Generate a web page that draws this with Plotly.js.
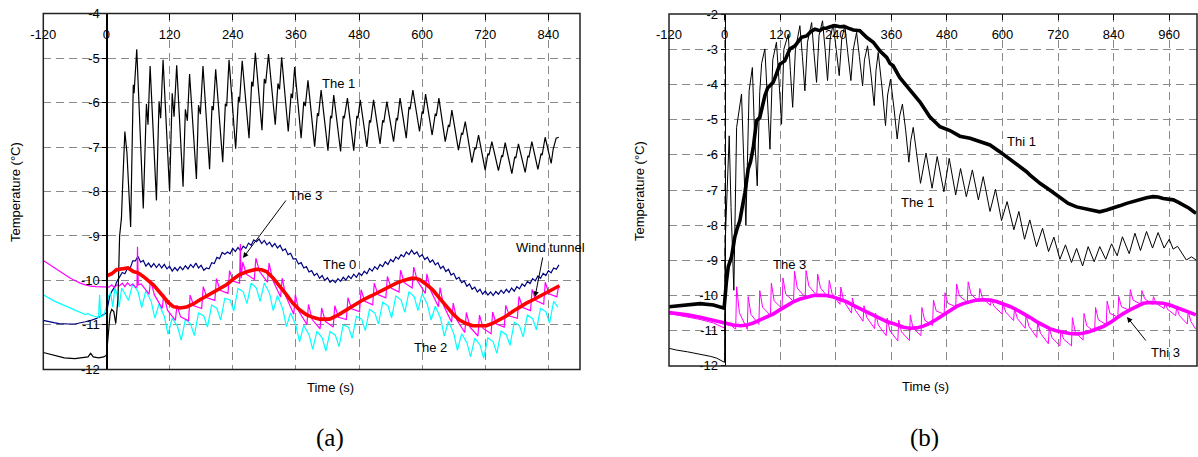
<!DOCTYPE html>
<html>
<head>
<meta charset="utf-8">
<script src="https://cdn.plot.ly/plotly-3.0.1.min.js"></script>
<style>html,body{margin:0;padding:0;background:#fff;}#chart{width:1198px;height:457px;}</style>
</head>
<body>
<div id="chart"></div>
<script>
// ---------- Panel (a) data ----------
const aThe1T = [-120,-100,-80,-60,-45,-35,-30,-25,-15,-5,0,3,7,10,14,17.7,20,22,25,28.5,31,35,39,43,46,51,52.5,57.6,70,76,79,83,95,100,103,107.6,120,125,128.5,133.5,145.6,150,153.8,158,171,175,178.5,183.5,196,200.6,203,207.6,221,226,228.5,233,245.6,251,253,258,271,276,278.5,283,295.6,300,302.5,308,320.8,326,329,333,345.5,351,353.5,357.7,370,375,378,383,395.7,401,403,408,421,426,428,432,445,450,452,458,470,476,478,482.4,495,500,502,507.7,520,525,527,533,545.7,551,553,558,569.8,575,577,582.4,595,600,602,606.5,619,625,627,631.8,643.9,650,652,656.5,669,675,677,682,694.5,700,702,707.2,719.8,725,727,732.5,745,751,753,757.8,770.5,776,778,783,795.8,801,803,808.5,820,826,828,833.8,845.2,849,854.7,859.7];
const aThe1Y = [-11.62,-11.68,-11.74,-11.76,-11.73,-11.72,-11.64,-11.72,-11.74,-11.72,-11.68,-11.2,-10.75,-10.65,-10.7,-10.97,-10.6,-10.4,-9.0,-8.6,-7.8,-6.65,-7.14,-8.0,-8.8,-5.6,-5.79,-4.8,-8.38,-6.03,-6.5,-5.18,-8.2,-5.97,-6.35,-5.04,-8.0,-5.79,-6.32,-5.16,-7.89,-6.15,-6.41,-5.36,-7.72,-6.06,-6.26,-5.18,-7.5,-6.08,-6.17,-5.25,-7.34,-6.03,-6.08,-5.04,-7.04,-5.87,-5.98,-5.06,-6.8,-5.53,-5.64,-4.88,-6.62,-5.47,-5.57,-4.91,-6.5,-5.57,-5.7,-4.98,-6.65,-5.8,-5.9,-5.2,-6.8,-5.98,-6.08,-5.5,-6.99,-6.24,-6.3,-5.72,-7.08,-6.3,-6.35,-5.83,-7.1,-6.3,-6.35,-5.9,-7.08,-6.3,-6.35,-5.94,-7.0,-6.4,-6.45,-5.94,-6.93,-6.4,-6.45,-5.98,-6.88,-6.35,-6.4,-5.9,-6.8,-6.1,-6.15,-5.72,-6.65,-6.2,-6.25,-5.81,-6.73,-6.25,-6.3,-5.9,-6.88,-6.5,-6.55,-6.17,-7.07,-6.68,-6.72,-6.43,-7.35,-7.02,-7.05,-6.73,-7.52,-7.15,-7.18,-6.88,-7.53,-7.2,-7.22,-6.9,-7.6,-7.22,-7.25,-6.93,-7.57,-7.2,-7.22,-6.88,-7.5,-7.15,-7.18,-6.78,-7.37,-7.05,-6.8,-6.78];

const aThe0T = [-120,-110,-100,-90,-80,-70,-60,-50,-40,-30,-20,-10,0,3,6,10,13,16,20,25,30,35,40,45,50,55,60,65,70,75,80,85,90,95,100,105,110,115,120,125,130,135,140,145,150,155,160,165,170,175,180,185,190,195,200,205,210,215,220,225,230,235,240,245,250,255,260,265,270,275,280,285,290,295,300,305,310,315,320,325,330,335,340,345,350,355,360,365,370,375,380,385,390,395,400,405,410,415,420,425,430,435,440,445,450,455,460,465,470,475,480,485,490,495,500,505,510,515,520,525,530,535,540,545,550,555,560,565,570,575,580,585,590,595,600,605,610,615,620,625,630,635,640,645,650,655,660,665,670,675,680,685,690,695,700,705,710,715,720,725,730,735,740,745,750,755,760,765,770,775,780,785,790,795,800,805,810,815,820,825,830,835,840,845,850,855,860];
const aThe0Y = [-10.9,-10.93,-10.95,-10.97,-10.98,-10.98,-10.98,-10.96,-10.93,-10.9,-10.86,-10.8,-10.73,-10.55,-10.36,-10.25,-10.2,-10.14,-10.02,-9.91,-9.82,-9.85,-9.73,-9.73,-9.56,-9.56,-9.46,-9.59,-9.55,-9.68,-9.61,-9.7,-9.62,-9.71,-9.63,-9.72,-9.64,-9.74,-9.68,-9.79,-9.71,-9.78,-9.69,-9.76,-9.67,-9.74,-9.64,-9.71,-9.61,-9.72,-9.66,-9.77,-9.72,-9.74,-9.6,-9.62,-9.48,-9.51,-9.37,-9.41,-9.36,-9.4,-9.28,-9.35,-9.26,-9.33,-9.23,-9.28,-9.16,-9.21,-9.09,-9.13,-9.07,-9.17,-9.1,-9.2,-9.14,-9.24,-9.17,-9.27,-9.21,-9.33,-9.29,-9.42,-9.39,-9.52,-9.51,-9.63,-9.6,-9.72,-9.69,-9.81,-9.78,-9.89,-9.84,-9.95,-9.89,-10.0,-9.94,-10.04,-9.99,-10.05,-9.96,-10.02,-9.93,-9.99,-9.9,-9.96,-9.86,-9.93,-9.83,-9.89,-9.79,-9.85,-9.73,-9.79,-9.69,-9.75,-9.64,-9.69,-9.58,-9.64,-9.53,-9.58,-9.47,-9.52,-9.42,-9.47,-9.36,-9.42,-9.32,-9.41,-9.36,-9.47,-9.42,-9.53,-9.48,-9.59,-9.54,-9.65,-9.6,-9.73,-9.68,-9.8,-9.75,-9.88,-9.84,-9.97,-9.93,-10.05,-10.01,-10.13,-10.08,-10.2,-10.15,-10.26,-10.2,-10.31,-10.24,-10.33,-10.26,-10.34,-10.25,-10.31,-10.22,-10.29,-10.2,-10.27,-10.17,-10.24,-10.14,-10.19,-10.08,-10.13,-10.02,-10.07,-9.96,-10.01,-9.9,-9.95,-9.84,-9.89,-9.78,-9.83,-9.72,-9.75,-9.65];

const aWindT = [0,10,19,30,41,51,60,70,80,89,98,108,118,127,140,152,165,177,190,203,215,228,240,253,268,285,295,304,317,329,342,354,367,380,392,405,424,440,456,472,487,503,519,535,551,565,579,587,595,607,620,633,646,659,671,684,696,709,722,735,747,760,772,785,798,810,823,842,861];
const aWindY = [-9.9,-9.85,-9.76,-9.74,-9.72,-9.8,-9.83,-9.91,-10.0,-10.1,-10.22,-10.36,-10.5,-10.59,-10.62,-10.6,-10.53,-10.44,-10.35,-10.25,-10.18,-10.1,-9.98,-9.87,-9.8,-9.75,-9.76,-9.8,-9.95,-10.12,-10.32,-10.51,-10.66,-10.77,-10.83,-10.87,-10.87,-10.78,-10.66,-10.55,-10.44,-10.35,-10.25,-10.15,-10.06,-10.0,-9.95,-9.95,-9.98,-10.08,-10.21,-10.4,-10.59,-10.76,-10.89,-10.97,-11.02,-11.03,-11.02,-10.96,-10.89,-10.8,-10.7,-10.6,-10.51,-10.44,-10.36,-10.24,-10.12];

const aThe3T = [-120,-110,-100,-90,-80,-70,-60,-50,-40,-30,-20,-10,0,5,10,15,20,25,30,35,40,45,50,55,58,59,60.5,66,81,84,91,106,109,116,131,134,141,156,159,166,181,184,191,206,209,216,231,234,241,253,254.5,256,259,266,281,284,291,306,309,316,331,334,341,356,359,366,381,384,391,406,409,416,431,434,441,456,459,466,481,484,491,506,509,516,531,534,541,556,559,566,581,584,591,606,609,616,631,634,641,656,659,666,681,684,691,706,709,716,731,734,741,756,759,766,781,784,791,806,809,816,831,834,841,856,859];
const aThe3Y = [-9.55,-9.63,-9.7,-9.8,-9.87,-9.94,-10.0,-10.06,-10.1,-10.13,-10.14,-10.15,-10.15,-10.15,-10.1,-10.16,-10.1,-10.12,-10.06,-10.14,-10.05,-10.12,-10.08,-10.15,-10.15,-9.24,-10.1,-10.08,-10.31,-9.99,-10.32,-10.63,-10.32,-10.67,-10.9,-10.56,-10.82,-10.91,-10.33,-10.57,-10.63,-10.14,-10.39,-10.45,-9.96,-10.22,-10.29,-9.78,-10.02,-10.06,-9.18,-9.95,-9.59,-9.86,-9.98,-9.5,-9.8,-10.04,-9.61,-9.99,-10.37,-9.95,-10.36,-10.76,-10.32,-10.7,-10.99,-10.54,-10.88,-11.09,-10.62,-10.92,-11.05,-10.57,-10.83,-10.88,-10.39,-10.64,-10.7,-10.21,-10.47,-10.55,-10.06,-10.32,-10.39,-9.91,-10.17,-10.26,-9.77,-10.05,-10.17,-9.7,-10.01,-10.29,-9.85,-10.22,-10.59,-10.16,-10.57,-10.94,-10.51,-10.89,-11.17,-10.72,-11.05,-11.25,-10.78,-11.08,-11.2,-10.71,-10.98,-11.05,-10.56,-10.8,-10.85,-10.36,-10.61,-10.68,-10.2,-10.45,-10.53,-10.04,-10.3,-10.37,-10.15];

const aThe2T = [-120,-110,-100,-90,-80,-70,-60,-50,-40,-35,-32,-25,-15,-13,-11,-5,0,4,8,12,16,20,24,29,35,42,50,60,67,75,85,92,100,110,117,125,135,142,150,160,167,175,185,192,200,210,217,225,235,242,250,260,267,275,285,292,300,310,317,325,335,342,350,360,367,375,385,392,400,410,417,425,435,442,450,460,467,475,485,492,500,510,517,525,535,542,550,560,567,575,585,592,600,610,617,625,635,642,650,660,667,675,685,692,700,710,717,725,735,742,750,760,767,775,785,792,800,810,817,825,835,842,850,858];
const aThe2Y = [-10.32,-10.4,-10.46,-10.51,-10.56,-10.62,-10.67,-10.72,-10.77,-10.74,-10.77,-10.8,-10.83,-10.32,-10.82,-10.78,-10.59,-10.35,-10.28,-10.6,-10.17,-10.3,-10.6,-10.17,-10.3,-10.45,-10.07,-10.25,-10.61,-10.23,-10.47,-10.85,-10.53,-10.81,-11.21,-10.85,-11.03,-11.34,-10.88,-10.98,-11.24,-10.73,-10.8,-11.05,-10.55,-10.63,-10.89,-10.4,-10.44,-10.69,-10.18,-10.25,-10.52,-10.06,-10.17,-10.47,-10.06,-10.29,-10.68,-10.34,-10.64,-11.04,-10.73,-11.01,-11.38,-11.01,-11.22,-11.55,-11.14,-11.29,-11.59,-11.15,-11.23,-11.49,-11.0,-11.05,-11.3,-10.81,-10.87,-11.13,-10.65,-10.73,-10.98,-10.49,-10.57,-10.84,-10.35,-10.44,-10.72,-10.25,-10.37,-10.68,-10.3,-10.54,-10.89,-10.58,-10.85,-11.25,-10.92,-11.19,-11.57,-11.2,-11.4,-11.72,-11.3,-11.45,-11.75,-11.29,-11.38,-11.64,-11.14,-11.22,-11.46,-10.94,-11.02,-11.27,-10.78,-10.86,-11.11,-10.63,-10.7,-10.96,-10.47,-10.6];

// ---------- Panel (b) data ----------
const bThi1T = [-120,-104,-80,-53,-24,-1,4,8,15,19,22,27,33,38,44,51,56,62,66,69,76,81,87,93,98,105,112,119.4,130,135,141,152,160,166,177,186,195,206,213,220,228,238,249,258,267,278,292,300,306.5,321,335,350,357,364,378,393,400,407,422,443,465,486.5,508,530,551,573,594,616,637,652,659,681,702,724,742,760,775,789,800,810,825,839,853,868,883,897,911,925,936,947,958,969,980,990,1003,1015,1018];
const bThi1Y = [-10.32,-10.3,-10.25,-10.23,-10.27,-10.36,-9.6,-9.18,-8.9,-8.5,-8.34,-8.1,-7.87,-7.5,-7.07,-6.4,-6.2,-5.79,-5.4,-5.03,-4.94,-4.6,-4.32,-4.1,-4.04,-3.94,-3.7,-3.42,-3.33,-3.15,-2.99,-2.9,-2.75,-2.66,-2.62,-2.5,-2.43,-2.47,-2.4,-2.4,-2.36,-2.33,-2.36,-2.35,-2.4,-2.45,-2.47,-2.58,-2.66,-2.8,-3.04,-3.23,-3.4,-3.47,-3.8,-4.04,-4.16,-4.27,-4.5,-4.92,-5.2,-5.31,-5.47,-5.53,-5.63,-5.72,-5.91,-6.12,-6.34,-6.48,-6.57,-6.81,-7.0,-7.22,-7.38,-7.48,-7.53,-7.57,-7.6,-7.62,-7.57,-7.52,-7.45,-7.38,-7.32,-7.27,-7.22,-7.19,-7.2,-7.24,-7.26,-7.28,-7.35,-7.42,-7.52,-7.64,-7.66];

const bThe1T = [-120,-104,-80,-53,-30,-17,-2.5,0,1,5,10,14,20,26,30,36.6,41,46,53,56,60,65,70.5,76,80,87,92,98,104,112,118,123,128,137.5,142,147,153,162.6,168,173.4,179,188,193,198.6,204,211.5,217,222.3,228,234.5,241,247.5,253,259.7,266,272.7,278,285,291,298,302,308.7,316,323,327,331.7,340,347.5,352,358.3,366,372.7,378,384,391,397.9,402,407.3,414,423,435,448,459,473.5,485,499,509.5,522,535,548,558.4,573,585,598,610,624.6,635.4,647.6,659,673.5,686.5,699.5,711,724,736,749,760,773,785,798,810,823,835.5,847.7,859,873.6,886,898,911,924,936,949,960,968.6,978,990,997,1008,1018];
const bThe1Y = [-11.5,-11.55,-11.6,-11.66,-11.73,-11.78,-11.88,-11.9,-8.6,-7.0,-5.46,-7.5,-9.85,-5.22,-4.8,-4.27,-6.0,-8.01,-4.18,-3.9,-3.52,-5.5,-6.88,-4.2,-3.4,-2.99,-4.5,-5.84,-3.3,-2.8,-4.0,-5.13,-3.0,-2.57,-3.6,-4.65,-3.0,-2.33,-3.2,-4.18,-2.8,-2.24,-3.1,-3.94,-2.6,-2.19,-3.0,-3.89,-2.7,-2.28,-3.0,-3.75,-2.7,-2.33,-3.1,-3.89,-3.0,-2.52,-3.2,-4.04,-3.3,-2.9,-3.7,-4.6,-3.6,-3.09,-4.1,-5.17,-4.3,-3.85,-4.7,-5.55,-4.9,-4.56,-5.3,-6.21,-5.6,-5.22,-5.9,-6.81,-5.95,-6.95,-6.05,-7.05,-6.1,-7.14,-6.39,-7.19,-6.43,-7.28,-6.62,-7.61,-6.98,-7.87,-7.33,-8.13,-7.61,-8.4,-7.85,-8.61,-8.09,-8.75,-8.34,-8.97,-8.56,-9.06,-8.66,-9.16,-8.61,-9.04,-8.61,-8.97,-8.53,-8.87,-8.33,-8.81,-8.23,-8.72,-8.18,-8.65,-8.21,-8.65,-8.4,-8.68,-8.6,-8.85,-8.99,-8.9,-8.99];

const bThi3T = [-120,-104,-80,-53,-24,-1,10,19,35,48,62,77,91,105.6,120,134,148,163,177,192,206,221,235,249.6,264,278,292,307,321,336,350,365,379,386,400,414.5,429,443,457,472,486,501,515,530,544,558.4,573,587,601,616,630,645,659,673.5,688,702,716,731,745,760,774,788.7,803,817.5,832,846,860,875,889,904,918,933,947,961.4,976,990,1004,1017.5];
const bThi3Y = [-10.48,-10.5,-10.55,-10.62,-10.71,-10.8,-10.82,-10.84,-10.86,-10.84,-10.78,-10.7,-10.61,-10.52,-10.4,-10.28,-10.18,-10.1,-10.04,-10.0,-9.99,-10.0,-10.04,-10.1,-10.18,-10.28,-10.37,-10.47,-10.57,-10.66,-10.74,-10.8,-10.86,-10.9,-10.93,-10.92,-10.87,-10.79,-10.68,-10.55,-10.43,-10.31,-10.23,-10.17,-10.13,-10.12,-10.13,-10.17,-10.23,-10.31,-10.4,-10.5,-10.62,-10.74,-10.85,-10.94,-11.0,-11.05,-11.08,-11.09,-11.07,-11.02,-10.96,-10.88,-10.77,-10.64,-10.52,-10.41,-10.31,-10.22,-10.2,-10.2,-10.22,-10.27,-10.33,-10.41,-10.48,-10.55];

const bThe3T = [-120,-100,-53,-24,-1,3,8,13,18,24,26,32,49,51,57,74,76,82,99,101,107,124,126,132,149,151,157,174,176,182,199,201,207,224,226,232,249,251,257,274,276,282,299,301,307,324,326,332,349,351,357,374,376,382,399,401,407,424,426,432,449,451,457,474,476,482,499,501,507,524,526,532,549,551,557,574,576,582,599,601,607,624,626,632,649,651,657,674,676,682,699,701,707,724,726,732,749,751,757,774,776,782,799,801,807,824,826,832,849,851,857,874,876,882,899,901,907,924,926,932,949,951,957,974,976,982,999,1001,1007,1017];
const bThe3Y = [-10.52,-10.56,-10.68,-10.78,-10.92,-10.75,-10.85,-10.8,-10.9,-10.95,-9.75,-10.49,-10.96,-10.03,-10.54,-10.82,-9.86,-10.33,-10.56,-9.65,-10.15,-10.37,-9.5,-9.96,-10.17,-9.31,-9.79,-10.05,-9.29,-9.73,-10.0,-9.39,-9.78,-10.06,-9.57,-9.94,-10.25,-9.76,-10.15,-10.5,-10.07,-10.41,-10.73,-10.29,-10.62,-10.94,-10.5,-10.84,-11.14,-10.64,-11.0,-11.29,-10.7,-11.03,-11.28,-10.55,-10.93,-11.14,-10.34,-10.7,-10.85,-10.13,-10.44,-10.53,-9.92,-10.22,-10.32,-9.67,-10.01,-10.19,-9.61,-9.96,-10.17,-9.8,-10.08,-10.28,-10.09,-10.31,-10.52,-10.23,-10.47,-10.71,-10.37,-10.65,-10.93,-10.55,-10.87,-11.19,-10.76,-11.07,-11.37,-10.93,-11.2,-11.43,-10.99,-11.24,-11.43,-10.63,-11.03,-11.27,-10.51,-10.86,-11.03,-10.34,-10.69,-10.83,-10.16,-10.51,-10.61,-10.03,-10.32,-10.42,-9.83,-10.13,-10.25,-9.86,-10.09,-10.25,-10.03,-10.22,-10.37,-10.23,-10.4,-10.57,-10.33,-10.57,-10.81,-10.47,-10.74,-10.95];

// ---------- Tick values and labels ----------
const aXTicks = [-120,0,120,240,360,480,600,720,840];
const aXText = ['-120','0','120','240','360','480','600','720','840'];
const bXTicks = [-120,0,120,240,360,480,600,720,840,960];
const bXText = ['-120','0','120','240','360','480','600','720','840','960'];
const aYTicks = [-12,-11,-10,-9,-8,-7,-6,-5,-4];
const aYText = ['-12','-11','-10','-9','-8','-7','-6','-5','-4'];
const bYTicks = [-12,-11,-10,-9,-8,-7,-6,-5,-4,-3,-2];
const bYText = ['-12','-11','-10','-9','-8','-7','-6','-5','-4','-3','-2'];
const aXRange = [-120, 900], aYRange = [-12, -4];
const bXRange = [-120, 1020], bYRange = [-12, -2];

// ---------- Layout geometry (pixels) ----------
const W = 1198, H = 457;
const domAx = [43.3 / W, 580 / W];
const domAy = [1 - 369.5 / H, 1 - 13.5 / H];
const domBx = [669 / W, 1197 / W];
const domBy = [1 - 366 / H, 1 - 14 / H];
const posA = domAx[0] + (0 - aXRange[0]) / (aXRange[1] - aXRange[0]) * (domAx[1] - domAx[0]);
const posB = domBx[0] + (0 - bXRange[0]) / (bXRange[1] - bXRange[0]) * (domBx[1] - domBx[0]);
const eps = 0.003;

const FONT = 'Liberation Sans, Arial, sans-serif';
const GRID = '#8a8a8a';
const DASH = '8px,5px';

function ln(x, y, color, width, xa, ya) {
  return {x: x, y: y, type: 'scatter', mode: 'lines', xaxis: xa, yaxis: ya,
          line: {color: color, width: width}, hoverinfo: 'skip', showlegend: false};
}

const traces = [
  ln(aThe0T, aThe0Y, '#000080', 1.2, 'x', 'y'),
  ln(aThe2T, aThe2Y, '#00ffff', 1.2, 'x', 'y'),
  ln(aThe3T, aThe3Y, '#ff00ff', 1.2, 'x', 'y'),
  ln(aThe1T, aThe1Y, '#000000', 1.2, 'x', 'y'),
  ln(aWindT, aWindY, '#ff0000', 3.6, 'x', 'y'),
  ln(bThe3T, bThe3Y, '#ff00ff', 1.0, 'x2', 'y2'),
  ln(bThi3T, bThi3Y, '#ff00ff', 3.6, 'x2', 'y2'),
  ln(bThe1T, bThe1Y, '#000000', 1.0, 'x2', 'y2'),
  ln(bThi1T, bThi1Y, '#000000', 3.6, 'x2', 'y2')
];

function xax(dom, range, anchor, vals, text) {
  return {domain: dom, range: range, anchor: anchor, side: 'top',
    tickmode: 'array', tickvals: vals, ticktext: text,
    ticks: 'inside', ticklen: 6, tickcolor: '#000', tickwidth: 1,
    ticklabelposition: 'inside', ticklabelstandoff: 10, ticklabeloverflow: 'allow',
    showgrid: true, gridcolor: GRID, griddash: DASH, gridwidth: 1,
    zeroline: false, showline: false, fixedrange: true,
    tickfont: {family: FONT, size: 13, color: '#000'}};
}
function yax(dom, range, pos, vals, text) {
  return {domain: dom, range: [range[0] - eps, range[1] + eps], anchor: 'free', position: pos,
    tickmode: 'array', tickvals: vals, ticktext: text,
    ticks: 'outside', ticklen: 4, tickcolor: '#000',
    ticklabeloverflow: 'allow',
    showline: true, linecolor: '#000', linewidth: 1.5,
    showgrid: true, gridcolor: GRID, griddash: DASH, gridwidth: 1,
    zeroline: false, fixedrange: true,
    tickfont: {family: FONT, size: 13, color: '#000'}};
}

function txt(t, x, y, size, fam, angle) {
  return {text: t, xref: 'paper', yref: 'paper', x: x / W, y: 1 - y / H,
    xanchor: 'center', yanchor: 'middle', showarrow: false, textangle: angle || 0,
    font: {family: fam || FONT, size: size || 13, color: '#000'}};
}
function arrow(hx, hy, tx, ty) {
  return {text: '', xref: 'paper', yref: 'paper', x: hx / W, y: 1 - hy / H,
    ax: tx - hx, ay: ty - hy, showarrow: true, arrowhead: 2, arrowsize: 1.1,
    arrowwidth: 1, arrowcolor: '#000', standoff: 0, startstandoff: 0};
}

const annotations = [
  txt('The 1', 338, 83),
  txt('The 3', 305, 196),
  txt('The 0', 339, 264),
  txt('The 2', 430, 347),
  txt('Wind tunnel', 550, 247),
  arrow(243, 258, 287, 199),
  arrow(535, 297, 543, 256),
  txt('Thi 1', 1021, 141),
  txt('The 1', 917, 203),
  txt('The 3', 789, 264),
  txt('Thi 3', 1165, 352),
  arrow(1127, 317, 1147, 342),
  txt('Temperature (°C)', 15, 192, 13, FONT, -90),
  txt('Temperature (°C)', 639, 191, 13, FONT, -90),
  txt('Time (s)', 330, 387),
  txt('Time (s)', 925, 386),
  txt('(a)', 330, 438, 25, 'Liberation Serif, serif'),
  txt('(b)', 924, 438, 25, 'Liberation Serif, serif')
];

const shapes = [
  {type: 'rect', xref: 'x domain', yref: 'y domain', x0: 0, x1: 1, y0: 0, y1: 1,
   line: {color: '#222', width: 1.5}, layer: 'above'},
  {type: 'rect', xref: 'x2 domain', yref: 'y2 domain', x0: 0, x1: 1, y0: 0, y1: 1,
   line: {color: '#222', width: 1.5}, layer: 'above'}
];

const layout = {
  width: W, height: H, autosize: false,
  margin: {l: 0, r: 0, t: 0, b: 0, pad: 0},
  paper_bgcolor: '#fff', plot_bgcolor: '#fff',
  showlegend: false,
  xaxis: xax(domAx, aXRange, 'y', aXTicks, aXText),
  yaxis: yax(domAy, aYRange, posA, aYTicks, aYText),
  xaxis2: xax(domBx, bXRange, 'y2', bXTicks, bXText),
  yaxis2: yax(domBy, bYRange, posB, bYTicks, bYText),
  annotations: annotations,
  shapes: shapes
};

Plotly.newPlot('chart', traces, layout, {displayModeBar: false, staticPlot: true});
</script>
</body>
</html>
